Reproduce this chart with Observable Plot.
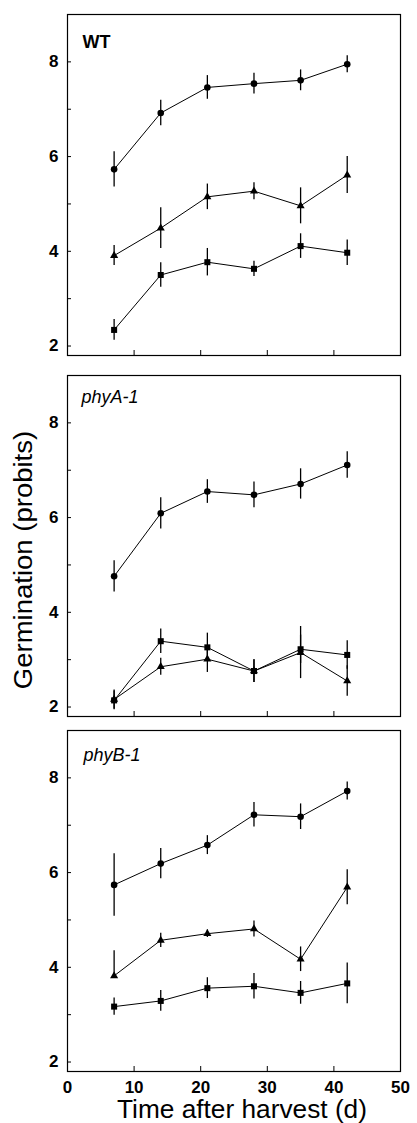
<!DOCTYPE html>
<html><head><meta charset="utf-8">
<script src="https://cdn.jsdelivr.net/npm/d3@7"></script>
<script src="https://cdn.jsdelivr.net/npm/@observablehq/plot@0.6"></script>
<style>
body{margin:0;background:#fff;}
#c{position:relative;width:417px;height:1123px;font-family:"Liberation Sans",Arial,sans-serif;color:#000;overflow:hidden;}
#c svg{position:absolute;left:0;}
.ylab{position:absolute;left:23px;top:560px;font-size:25px;white-space:nowrap;line-height:20px;transform:translate(-50%,-50%) rotate(-90deg) scaleX(1.1);}
.xlab{position:absolute;left:242px;top:1101px;font-size:25px;white-space:nowrap;line-height:16px;height:16px;transform:translateX(-50%) scaleX(1.05);}
</style></head><body><div id="c"></div>
<script>
const days = [7, 14, 21, 28, 35, 42];
const panelNames = ["WT", "phyA-1", "phyB-1"];
const yTicks = [2, 3, 4, 5, 6, 7, 8];
const yLabels = [2, 4, 6, 8];
const xInnerTicks = [10, 20, 30, 40];
const xLabels = [0, 10, 20, 30, 40, 50];

// WT
const wtCircle = [5.73, 6.92, 7.46, 7.54, 7.61, 7.95];
const wtCircleErr = [0.37, 0.27, 0.25, 0.22, 0.22, 0.18];
const wtTriangle = [3.91, 4.49, 5.15, 5.27, 4.96, 5.61];
const wtTriangleErr = [0.21, 0.43, 0.27, 0.18, 0.38, 0.39];
const wtSquare = [2.34, 3.50, 3.77, 3.63, 4.11, 3.97];
const wtSquareErr = [0.22, 0.26, 0.29, 0.16, 0.26, 0.27];

// phyA-1
const aCircle = [4.76, 6.09, 6.55, 6.48, 6.71, 7.11];
const aCircleErr = [0.33, 0.33, 0.25, 0.27, 0.32, 0.28];
const aTriangle = [2.16, 2.85, 3.01, 2.76, 3.15, 2.55];
const aTriangleErr = [0.2, 0.18, 0.28, 0.24, 0.55, 0.32];
const aSquare = [2.14, 3.39, 3.26, 2.76, 3.22, 3.10];
const aSquareErr = [0.2, 0.26, 0.3, 0.24, 0.3, 0.3];

// phyB-1
const bCircle = [5.74, 6.19, 6.58, 7.22, 7.18, 7.72];
const bCircleErr = [0.66, 0.32, 0.2, 0.26, 0.27, 0.19];
const bTriangle = [3.82, 4.57, 4.71, 4.81, 4.17, 5.69];
const bTriangleErrUp = [0.53, 0.15, 0.08, 0.17, 0.26, 0.37];
const bTriangleErrDown = [0.0, 0.15, 0.08, 0.17, 0.26, 0.37];
const bSquare = [3.17, 3.29, 3.56, 3.60, 3.46, 3.66];
const bSquareErr = [0.18, 0.22, 0.22, 0.27, 0.24, 0.43];

function series(shape, vals, up, down) {
  return days.map((d, i) => ({day: d, value: vals[i], hi: vals[i] + up[i], lo: vals[i] - (down || up)[i], shape}));
}

const panelRows = [
  [...series("circle", wtCircle, wtCircleErr), ...series("triangle", wtTriangle, wtTriangleErr), ...series("square", wtSquare, wtSquareErr)],
  [...series("circle", aCircle, aCircleErr), ...series("triangle", aTriangle, aTriangleErr), ...series("square", aSquare, aSquareErr)],
  [...series("circle", bCircle, bCircleErr), ...series("triangle", bTriangle, bTriangleErrUp, bTriangleErrDown), ...series("square", bSquare, bSquareErr)]
];

const layout = [
  {top: 0, mt: 14, mb: 6, dx: 15, dy: 33, italic: false, bottom: false},
  {top: 365, mt: 10, mb: 6, dx: 14, dy: 27, italic: true, bottom: false},
  {top: 720, mt: 10, mb: 30, dx: 16, dy: 30, italic: true, bottom: true}
];

const sizes = {circle: 3.3, triangle: 3.0, square: 3.4};
const c = document.getElementById("c");

panelNames.forEach((name, k) => {
  const L = layout[k];
  const rows = panelRows[k];
  const h = L.mt + 341 + L.mb;
  const marks = [
    Plot.frame({stroke: "black", strokeWidth: 1.2}),
    Plot.axisY({ticks: yTicks, tickSize: -4, fill: "none", strokeWidth: 1}),
    Plot.axisY({ticks: yLabels, tickSize: 0, tickPadding: 9, fontSize: 17, fontWeight: "bold", tickFormat: d => String(d)}),
    Plot.axisX({ticks: xInnerTicks, tickSize: -5, fill: "none", strokeWidth: 1}),
    L.bottom ? Plot.axisX({ticks: xLabels, tickSize: 0, tickPadding: 9, fontSize: 17, fontWeight: "bold", tickFormat: d => String(d)}) : null,
    Plot.ruleX(rows, {x: "day", y1: "lo", y2: "hi", stroke: "black", strokeWidth: 1.3}),
    Plot.line(rows, {x: "day", y: "value", z: "shape", stroke: "black", strokeWidth: 1}),
    ...["circle", "triangle", "square"].map(s =>
      Plot.dot(rows.filter(d => d.shape === s), {x: "day", y: "value", symbol: s, r: sizes[s], fill: "black", stroke: "none"})),
    Plot.text([name], {text: d => d, frameAnchor: "top-left", dx: L.dx, dy: L.dy, lineAnchor: "bottom", textAnchor: "start",
      fontSize: 18, fontStyle: L.italic ? "italic" : "normal", fontWeight: L.italic ? "normal" : "bold"})
  ];
  const svg = Plot.plot({
    width: 417, height: h,
    marginLeft: 67, marginRight: 17, marginTop: L.mt, marginBottom: L.mb,
    x: {domain: [0, 50], label: null},
    y: {domain: [1.8, 9.0], label: null},
    style: {fontFamily: "'Liberation Sans', Arial, sans-serif", background: "white", color: "black", overflow: "visible"},
    marks
  });
  svg.style.top = L.top + "px";
  c.appendChild(svg);
});

const yl = document.createElement("div");
yl.className = "ylab";
yl.textContent = "Germination (probits)";
c.appendChild(yl);
const xl = document.createElement("div");
xl.className = "xlab";
xl.textContent = "Time after harvest (d)";
c.appendChild(xl);
</script></body></html>
